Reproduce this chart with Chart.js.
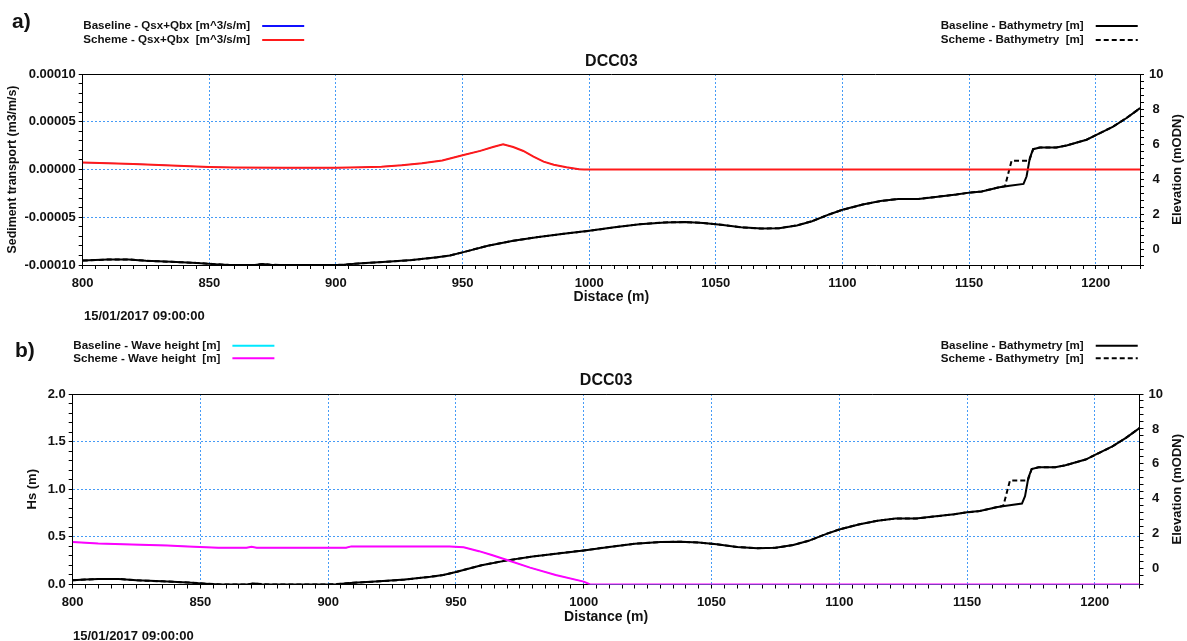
<!DOCTYPE html>
<html>
<head>
<meta charset="utf-8">
<script src="https://cdn.jsdelivr.net/npm/chart.js@4.4.1/dist/chart.umd.min.js"></script>
<style>
  html, body { margin: 0; padding: 0; background: #fff; }
  #wrap { position: relative; width: 1187px; height: 641px; overflow: hidden; background: #fff; }
  canvas { position: absolute; left: 0; }
</style>
</head>
<body>
<div id="wrap">
  <canvas id="panelA" width="1187" height="322" style="top:0"></canvas>
  <canvas id="panelB" width="1187" height="319" style="top:322px"></canvas>
</div>
<script>
// ---- Profile DCC03, 15/01/2017 09:00:00 ----

// Sediment transport along the profile (m3/m/s)
const transportDist     = [800, 810, 820, 830, 840, 850, 860, 880, 900, 910, 918, 926, 934, 942, 950, 957, 962, 966, 970, 974, 978, 982, 986, 991, 996, 998, 1217.5];
const transportScheme   = [7.2e-6, 6.6e-6, 5.8e-6, 4.8e-6, 3.6e-6, 2.6e-6, 2.0e-6, 1.8e-6, 1.8e-6, 2.3e-6, 3.0e-6, 4.5e-6, 6.5e-6, 9.5e-6, 1.5e-5, 1.95e-5, 2.35e-5, 2.64e-5, 2.35e-5, 1.94e-5, 1.35e-5, 8.2e-6, 5.0e-6, 2.3e-6, 0.3e-6, 0, 0];
const transportBaseline = [7.2e-6, 6.6e-6, 5.8e-6, 4.8e-6, 3.6e-6, 2.6e-6, 2.0e-6, 1.8e-6, 1.8e-6, 2.3e-6, 3.0e-6, 4.5e-6, 6.5e-6, 9.5e-6, 1.5e-5, 1.95e-5, 2.35e-5, 2.64e-5, 2.35e-5, 1.94e-5, 1.35e-5, 8.2e-6, 5.0e-6, 2.3e-6, 0.3e-6, 0, 0];

// Bed elevation (mODN)
const bathyDist     = [800, 805, 810, 818, 825, 835, 845, 852, 858, 860, 868, 871, 874, 878, 898, 903, 910, 920, 930, 940, 945, 950, 960, 970, 980, 990, 1000, 1010, 1020, 1030, 1038, 1045, 1052, 1060, 1068, 1075, 1082, 1088, 1095, 1100, 1108, 1115, 1122, 1130, 1136, 1145, 1150, 1155, 1162, 1166, 1171.5, 1172.7, 1174, 1175.3, 1178, 1184.5, 1188.5, 1196.4, 1200.3, 1206.9, 1212.2, 1217.5];
const bathyBaseline = [-0.65, -0.62, -0.58, -0.58, -0.66, -0.72, -0.78, -0.85, -0.9, -0.9, -0.9, -0.84, -0.88, -0.9, -0.9, -0.88, -0.8, -0.72, -0.62, -0.46, -0.36, -0.18, 0.2, 0.48, 0.7, 0.88, 1.05, 1.25, 1.43, 1.53, 1.55, 1.5, 1.4, 1.25, 1.18, 1.2, 1.36, 1.6, 2.0, 2.25, 2.55, 2.75, 2.87, 2.87, 2.97, 3.12, 3.23, 3.3, 3.54, 3.62, 3.73, 4.15, 5.2, 5.71, 5.81, 5.81, 5.92, 6.25, 6.53, 7.0, 7.49, 8.05];
const bathySchemeDist = [800, 805, 810, 818, 825, 835, 845, 852, 858, 860, 868, 871, 874, 878, 898, 903, 910, 920, 930, 940, 945, 950, 960, 970, 980, 990, 1000, 1010, 1020, 1030, 1038, 1045, 1052, 1060, 1068, 1075, 1082, 1088, 1095, 1100, 1108, 1115, 1122, 1130, 1136, 1145, 1150, 1155, 1162, 1164.2, 1166.8, 1173.8, 1175.3, 1178, 1184.5, 1188.5, 1196.4, 1200.3, 1206.9, 1212.2, 1217.5];
const bathyScheme     = [-0.65, -0.62, -0.58, -0.58, -0.66, -0.72, -0.78, -0.85, -0.9, -0.9, -0.9, -0.84, -0.88, -0.9, -0.9, -0.88, -0.8, -0.72, -0.62, -0.46, -0.36, -0.18, 0.2, 0.48, 0.7, 0.88, 1.05, 1.25, 1.43, 1.53, 1.55, 1.5, 1.4, 1.25, 1.18, 1.2, 1.36, 1.6, 2.0, 2.25, 2.55, 2.75, 2.87, 2.87, 2.97, 3.12, 3.23, 3.3, 3.54, 3.6, 5.05, 5.05, 5.71, 5.81, 5.81, 5.92, 6.25, 6.53, 7.0, 7.49, 8.05];

// Significant wave height (m)
const waveDist     = [800, 810, 823, 837, 845, 857, 868, 870, 872, 907, 909, 947.5, 953, 959, 964, 970, 979, 989, 1000, 1002.5, 1217.5];
const waveScheme   = [0.446, 0.43, 0.42, 0.41, 0.40, 0.385, 0.385, 0.395, 0.385, 0.385, 0.40, 0.40, 0.39, 0.35, 0.31, 0.257, 0.177, 0.10, 0.03, 0, 0];
const waveBaseline = [0.446, 0.43, 0.42, 0.41, 0.40, 0.385, 0.385, 0.395, 0.385, 0.385, 0.40, 0.40, 0.39, 0.35, 0.31, 0.257, 0.177, 0.10, 0.03, 0, 0];

const FONT = "'Liberation Sans', Arial, Helvetica, sans-serif";
const GRID_BLUE = 'rgba(60,150,245,0.95)';
const CLEAR = 'rgba(0,0,0,0)';

const pairs = (xs, ys) => xs.map((x, i) => ({ x, y: ys[i] }));
const onStep = (v, step) => Math.abs(v / step - Math.round(v / step)) < 1e-6;

function lineSet(label, xs, ys, color, axis, side, row, opts) {
  opts = opts || {};
  return {
    label, data: pairs(xs, ys), yAxisID: axis,
    borderColor: color, backgroundColor: color, borderWidth: opts.width || 2,
    borderDash: opts.dash || [], pointRadius: 0, tension: 0, fill: false,
    legendSide: side, legendRow: row
  };
}

// Text, frame and legend drawn around the plot area
const decor = {
  id: 'decor',
  afterDraw(chart, args, o) {
    const { ctx, chartArea: a } = chart;
    ctx.save();
    ctx.strokeStyle = '#000';
    ctx.lineWidth = 1;
    ctx.beginPath();
    ctx.moveTo(a.left, Math.round(a.top) + 0.5);
    ctx.lineTo(a.right, Math.round(a.top) + 0.5);
    ctx.stroke();

    ctx.fillStyle = '#111';
    ctx.textBaseline = 'middle';
    ctx.textAlign = 'left';
    ctx.font = `bold 21px ${FONT}`;
    ctx.fillText(o.tag, o.tagX, o.tagY);

    ctx.textAlign = 'center';
    ctx.font = `bold 16px ${FONT}`;
    ctx.fillText(o.title, (a.left + a.right) / 2, o.titleY);

    ctx.font = `bold 14px ${FONT}`;
    ctx.fillText(o.xTitle, (a.left + a.right) / 2, o.xTitleY);

    ctx.font = `bold 13px ${FONT}`;
    ctx.textAlign = 'left';
    ctx.fillText(o.stamp, o.stampX, o.stampY);

    const midY = (a.top + a.bottom) / 2;
    for (const [txt, x, size] of [[o.yTitle, o.yTitleX, o.yTitleSize], [o.y1Title, o.y1TitleX, 13]]) {
      ctx.save();
      ctx.font = `bold ${size}px ${FONT}`;
      ctx.translate(x, midY);
      ctx.rotate(-Math.PI / 2);
      ctx.textAlign = 'center';
      ctx.fillText(txt, 0, 0);
      ctx.restore();
    }

    ctx.font = `bold 11.6px ${FONT}`;
    ctx.textAlign = 'left';
    for (const side of ['left', 'right']) {
      const items = chart.data.datasets.filter(d => d.legendSide === side).sort((p, q) => p.legendRow - q.legendRow);
      const x0 = side === 'left' ? o.legendLeftX : o.legendRightX;
      const w = Math.max(...items.map(d => ctx.measureText(d.label).width));
      items.forEach(d => {
        const y = o.legendY[d.legendRow];
        ctx.fillStyle = '#111';
        ctx.fillText(d.label, x0, y);
        ctx.beginPath();
        ctx.setLineDash(d.borderDash || []);
        ctx.strokeStyle = d.borderColor;
        ctx.lineWidth = 2;
        ctx.moveTo(x0 + w + 12, y);
        ctx.lineTo(x0 + w + 54, y);
        ctx.stroke();
        ctx.setLineDash([]);
      });
    }
    ctx.restore();
  }
};

function build(canvas, p) {
  const H = canvas.height, W = canvas.width;
  const tickFont = { family: FONT, size: 13, weight: 'bold' };
  return new Chart(canvas, {
    type: 'line',
    data: { datasets: p.datasets },
    options: {
      responsive: false, animation: false, events: [],
      layout: { padding: { top: p.area.top, left: 0, right: 0, bottom: 0 } },
      plugins: { legend: { display: false }, title: { display: false }, tooltip: { enabled: false }, decor: p.text },
      scales: {
        x: {
          type: 'linear', min: 800, max: 1217.5,
          afterFit: s => { s.height = H - p.area.bottom; },
          ticks: {
            stepSize: 5, autoSkip: false, maxRotation: 0, minRotation: 0,
            padding: p.xPad, color: '#111', font: tickFont,
            callback: v => onStep(v, 50) ? String(v) : ''
          },
          grid: {
            color: c => (c.tick && onStep(c.tick.value, 50) && c.tick.value > 800 && c.tick.value < 1217) ? GRID_BLUE : CLEAR,
            tickColor: '#000', tickLength: 4, lineWidth: 1
          },
          border: { color: '#000', width: 1, dash: [2, 2] }
        },
        y: {
          position: 'left', min: p.yLeft.min, max: p.yLeft.max,
          afterFit: s => { s.width = p.area.left; },
          ticks: {
            stepSize: p.yLeft.minor, autoSkip: false, padding: 3, color: '#111', font: tickFont,
            callback: v => onStep(v, p.yLeft.major) ? p.yLeft.fmt(v) : ''
          },
          grid: {
            color: c => {
              if (!c.tick) return CLEAR;
              const v = c.tick.value;
              const inner = v > p.yLeft.min + p.yLeft.minor / 2 && v < p.yLeft.max - p.yLeft.minor / 2;
              return inner && onStep(v, p.yLeft.major) ? GRID_BLUE : CLEAR;
            },
            tickColor: '#000', tickLength: 4, lineWidth: 1
          },
          border: { color: '#000', width: 1, dash: [2, 2] }
        },
        y1: {
          position: 'right', min: -0.9, max: 10,
          afterFit: s => { s.width = W - p.area.right; },
          ticks: {
            stepSize: 0.4, autoSkip: false, padding: 5, crossAlign: 'center', color: '#111', font: tickFont,
            callback: v => (onStep(v, 2) && v >= 0) ? String(Math.round(v)) : ''
          },
          grid: { drawOnChartArea: false, tickColor: '#000', tickLength: 4 },
          border: { color: '#000', width: 1 }
        }
      }
    },
    plugins: [decor]
  });
}

// Panel a) — sediment transport with bathymetry
build(document.getElementById('panelA'), {
  area: { left: 82.7, right: 1140, top: 74, bottom: 265 },
  xPad: 7,
  yLeft: { min: -0.0001, max: 0.0001, minor: 0.00001, major: 0.00005, fmt: v => v.toFixed(5) },
  datasets: [
    lineSet('Scheme - Qsx+Qbx  [m^3/s/m]', transportDist, transportScheme, '#ff1a1a', 'y', 'left', 1),
    lineSet('Baseline - Qsx+Qbx [m^3/s/m]', transportDist, transportBaseline, '#1010ff', 'y', 'left', 0, { width: 1 }),
    lineSet('Baseline - Bathymetry [m]', bathyDist, bathyBaseline, '#000000', 'y1', 'right', 0),
    lineSet('Scheme - Bathymetry  [m]', bathySchemeDist, bathyScheme, '#000000', 'y1', 'right', 1, { dash: [5, 3] })
  ],
  text: {
    tag: 'a)', tagX: 12, tagY: 22,
    title: 'DCC03', titleY: 62,
    xTitle: 'Distace (m)', xTitleY: 297,
    stamp: '15/01/2017 09:00:00', stampX: 84, stampY: 316,
    yTitle: 'Sediment transport (m3/m/s)', yTitleX: 13, yTitleSize: 12.4,
    y1Title: 'Elevation (mODN)', y1TitleX: 1177,
    legendLeftX: 83.3, legendRightX: 940.7, legendY: [26, 40]
  }
});

// Panel b) — wave height with bathymetry
build(document.getElementById('panelB'), {
  area: { left: 72.7, right: 1139.5, top: 72, bottom: 262.5 },
  xPad: 6,
  yLeft: { min: 0, max: 2, minor: 0.1, major: 0.5, fmt: v => v.toFixed(1) },
  datasets: [
    lineSet('Scheme - Wave height  [m]', waveDist, waveScheme, '#ff00ff', 'y', 'left', 1),
    lineSet('Baseline - Wave height [m]', waveDist, waveBaseline, '#00e8ff', 'y', 'left', 0, { width: 1 }),
    lineSet('Baseline - Bathymetry [m]', bathyDist, bathyBaseline, '#000000', 'y1', 'right', 0),
    lineSet('Scheme - Bathymetry  [m]', bathySchemeDist, bathyScheme, '#000000', 'y1', 'right', 1, { dash: [5, 3] })
  ],
  text: {
    tag: 'b)', tagX: 15, tagY: 29,
    title: 'DCC03', titleY: 59,
    xTitle: 'Distance (m)', xTitleY: 295,
    stamp: '15/01/2017 09:00:00', stampX: 73, stampY: 314,
    yTitle: 'Hs (m)', yTitleX: 32, yTitleSize: 13,
    y1Title: 'Elevation (mODN)', y1TitleX: 1177,
    legendLeftX: 73.3, legendRightX: 940.7, legendY: [23.7, 36.3]
  }
});
</script>
</body>
</html>
